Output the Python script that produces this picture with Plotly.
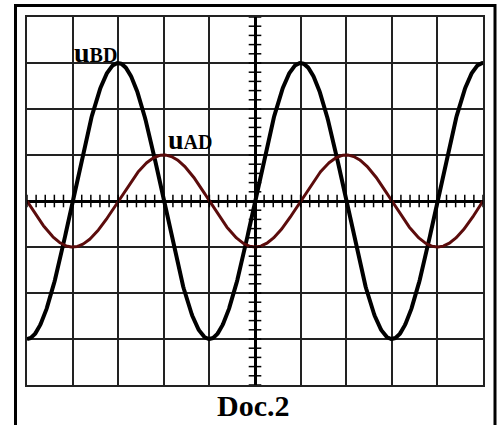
import numpy as np
import plotly.graph_objects as go

# Oscilloscope screen: 10 x 8 divisions
x_divisions = [-5, 5]
y_divisions = [-4, 4]

# Signals (amplitude in divisions, period in divisions, phase in degrees)
signal_names = ["uBD", "uAD"]
amplitudes = [3.0, 1.0]
periods = [4.0, 4.0]
phases_deg = [0.0, -90.0]
colors = ["#000000", "#5c0c0c"]
widths = [4, 3]

W, H = 504, 425
gx0, gx1 = 27, 483
gy0, gy1 = 17, 385

fig = go.Figure()

t = np.linspace(x_divisions[0], x_divisions[1], 801)
for name, a, p, ph, c, w in zip(signal_names, amplitudes, periods, phases_deg, colors, widths):
    y = a * np.sin(2 * np.pi * t / p + np.deg2rad(ph))
    fig.add_trace(go.Scatter(x=t, y=y, mode="lines", name=name,
                             line=dict(color=c, width=w), hoverinfo="skip"))

# minor graduation ticks on central axes (5 per division)
hx = np.round(np.arange(x_divisions[0], x_divisions[1] + 1e-9, 0.2), 3)
hy = np.round(np.arange(y_divisions[0], y_divisions[1] + 1e-9, 0.2), 3)
fig.add_trace(go.Scatter(x=hx, y=np.zeros_like(hx), mode="markers",
                         marker=dict(symbol="line-ns-open", size=9, color="black",
                                     line=dict(color="black", width=1.5)),
                         hoverinfo="skip", showlegend=False, cliponaxis=False))
fig.add_trace(go.Scatter(x=np.zeros_like(hy), y=hy, mode="markers",
                         marker=dict(symbol="line-ew-open", size=9, color="black",
                                     line=dict(color="black", width=1.5)),
                         hoverinfo="skip", showlegend=False, cliponaxis=False))

fig.update_layout(
    width=W, height=H,
    margin=dict(l=0, r=0, t=0, b=0),
    paper_bgcolor="white", plot_bgcolor="white",
    showlegend=False,
    xaxis=dict(range=x_divisions, domain=[gx0 / W, gx1 / W], dtick=1,
               showgrid=True, gridcolor="#222", gridwidth=1.5,
               zeroline=True, zerolinecolor="black", zerolinewidth=2.5,
               showline=True, mirror=True, linecolor="#222", linewidth=1.5,
               showticklabels=False, ticks="", fixedrange=True),
    yaxis=dict(range=y_divisions, domain=[(H - gy1) / H, (H - gy0) / H], dtick=1,
               showgrid=True, gridcolor="#222", gridwidth=1.5,
               zeroline=True, zerolinecolor="black", zerolinewidth=2.5,
               showline=True, mirror=True, linecolor="#222", linewidth=1.5,
               showticklabels=False, ticks="", fixedrange=True),
    font=dict(family="Liberation Serif", color="black"),
)

# outer frame
fig.add_shape(type="rect", xref="paper", yref="paper",
              x0=15.5 / W, x1=495 / W, y0=-0.02, y1=(H - 5.5) / H,
              line=dict(color="black", width=3), fillcolor="rgba(0,0,0,0)", layer="above")

fig.add_annotation(x=(95 - 255) / 45.6, y=(201 - 52) / 46, xref="x", yref="y",
                   text="<b>u<span style='font-size:20px'>BD</span></b>",
                   showarrow=False, font=dict(size=28, family="Liberation Serif", color="black"),
                   xanchor="center", yanchor="middle")
fig.add_annotation(x=(190 - 255) / 45.6, y=(201 - 139) / 46, xref="x", yref="y",
                   text="<b>u<span style='font-size:20px'>AD</span></b>",
                   showarrow=False, font=dict(size=28, family="Liberation Serif", color="black"),
                   xanchor="center", yanchor="middle")
fig.add_annotation(x=253 / W, y=(H - 405) / H, xref="paper", yref="paper",
                   text="<b>Doc.2</b>", showarrow=False,
                   font=dict(size=30, family="Liberation Serif", color="black"),
                   xanchor="center", yanchor="middle")

fig.write_html("out.html", config={"displayModeBar": False},
               post_script="document.body.style.margin='0';document.body.style.overflow='hidden';")
